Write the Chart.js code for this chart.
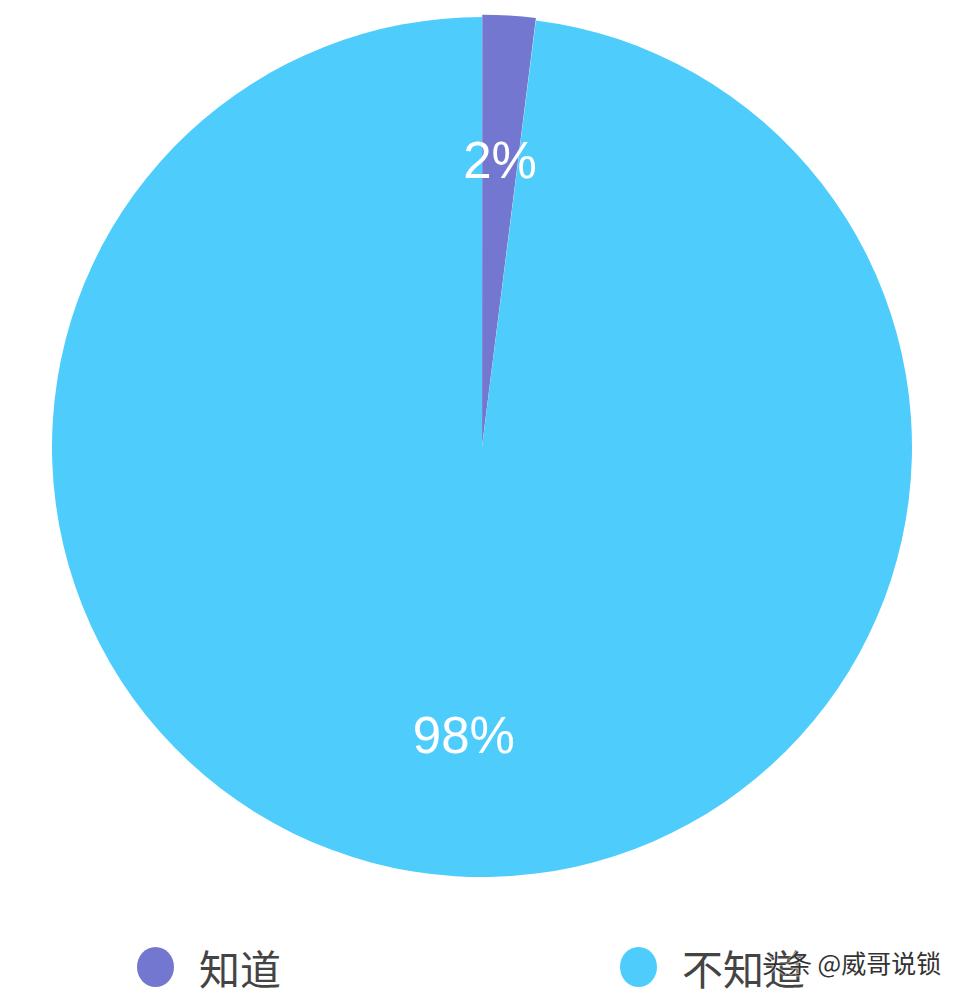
<!DOCTYPE html>
<html>
<head>
<meta charset="utf-8">
<script src="https://cdn.jsdelivr.net/npm/chart.js@4/dist/chart.umd.min.js"></script>
<style>
  html, body { margin: 0; padding: 0; background: #fff; }
  #wrap { position: relative; width: 956px; height: 999px; overflow: hidden; }
  #box { position: absolute; left: 0; top: 0; width: 956px; height: 900px; }
  .leg { position: absolute; top: 937px; display: flex; align-items: center;
         font-family: "Noto Sans CJK SC", sans-serif; font-size: 41px; color: #444; }
  .leg .dot { width: 37px; height: 40px; border-radius: 50%; margin-right: 25px; }
  #mark { position: absolute; left: 762px; top: 944px; font-family: "Noto Sans CJK SC", sans-serif;
          font-size: 25px; color: #333; text-shadow: 0 0 2px #fff, 0 0 2px #fff; }
</style>
</head>
<body>
<div id="wrap">
  <div id="box"><canvas id="pie"></canvas></div>
  <div id="legend"></div>
  <div id="mark">头条 @威哥说锁</div>
</div>
<script>
/* ── data ── */
const labels = ['知道', '不知道'];
const values = [2, 98];
const colors = ['#7377cf', '#4ecdfd'];

/* ── percentage labels inside the slices ── */
const sliceLabels = {
  id: 'sliceLabels',
  afterDatasetsDraw(chart) {
    const c = chart.ctx;
    const total = values.reduce((a, b) => a + b, 0);
    c.save();
    c.fillStyle = '#fff';
    c.font = '51px "Liberation Sans", Arial, sans-serif';
    c.textAlign = 'center';
    c.textBaseline = 'middle';
    chart.getDatasetMeta(0).data.forEach((arc, i) => {
      const p = arc.getProps(['x', 'y', 'startAngle', 'endAngle', 'outerRadius'], true);
      const mid = (p.startAngle + p.endAngle) / 2;
      const r = p.outerRadius * 0.67;
      const pct = Math.round(values[i] / total * 100) + '%';
      c.fillText(pct, p.x + Math.cos(mid) * r, p.y + Math.sin(mid) * r + 4);
    });
    c.restore();
  }
};

new Chart(document.getElementById('pie'), {
  type: 'pie',
  data: {
    labels: labels,
    datasets: [{
      data: values,
      backgroundColor: colors,
      borderWidth: 0,
      offset: [5, 0],
      hoverOffset: 0
    }]
  },
  options: {
    responsive: true,
    maintainAspectRatio: false,
    animation: false,
    radius: 430,
    layout: { padding: { left: 8, right: 0, top: 0, bottom: 6 } },
    plugins: { legend: { display: false }, tooltip: { enabled: false } }
  },
  plugins: [sliceLabels]
});

/* ── legend ── */
const legend = document.getElementById('legend');
const legLeft = [137, 620];
labels.forEach((name, i) => {
  const item = document.createElement('div');
  item.className = 'leg';
  item.style.left = legLeft[i] + 'px';
  item.innerHTML = '<span class="dot" style="background:' + colors[i] + '"></span><span>' + name + '</span>';
  legend.appendChild(item);
});
</script>
</body>
</html>
